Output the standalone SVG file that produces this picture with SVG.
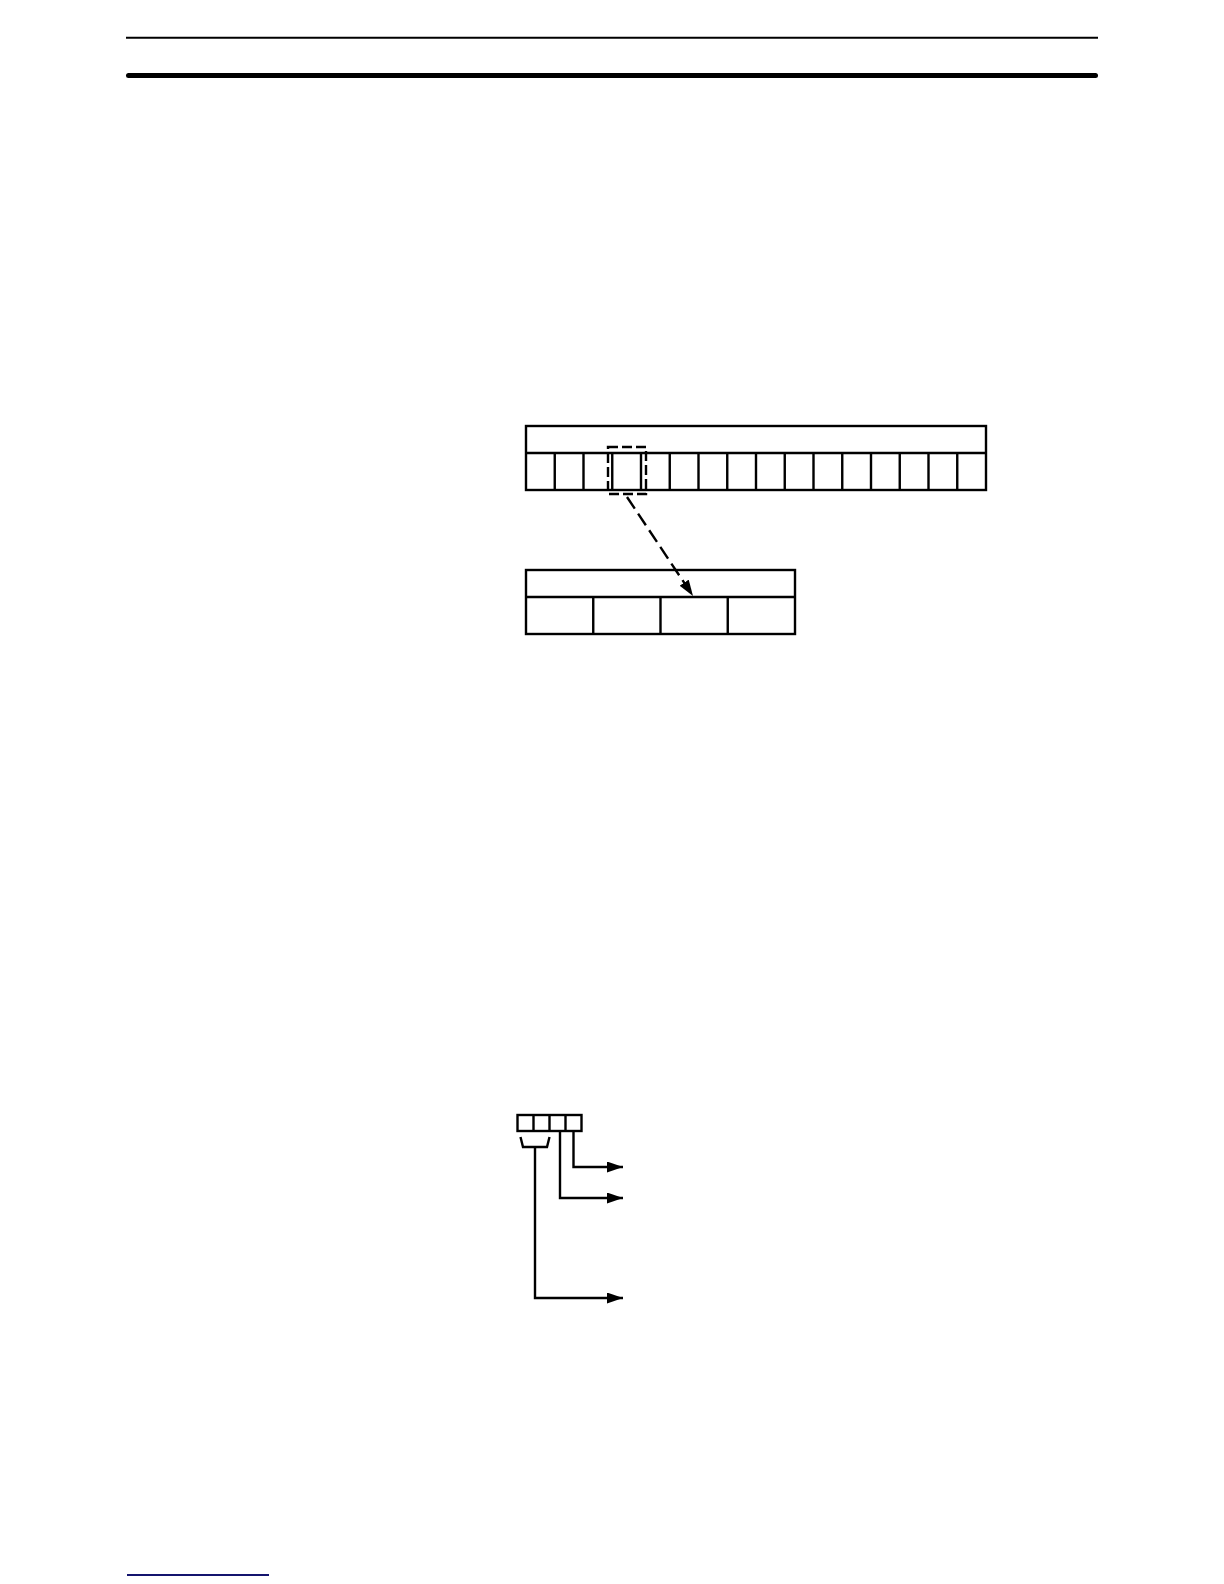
<svg xmlns="http://www.w3.org/2000/svg" width="1224" height="1584" viewBox="0 0 1224 1584">
<style>
.ln{stroke:#000;stroke-width:2.4;fill:none}
.box{stroke:#000;stroke-width:2.4;fill:#fff}
.dash{stroke:#000;stroke-width:2.4;fill:none;stroke-dasharray:10 4}
.dline{stroke:#000;stroke-width:2.4;fill:none;stroke-dasharray:14 6}
</style>
<defs>
<marker id="ah" viewBox="0 0 16 11" refX="16" refY="5.5" markerWidth="16" markerHeight="11" markerUnits="userSpaceOnUse" orient="auto">
<path d="M0,0 L16,5.5 L0,11 Z" fill="#000"/>
</marker>
</defs>
<rect width="1224" height="1584" fill="#fff"/>
<g id="header">
<line x1="126" y1="37.7" x2="1098" y2="37.7" stroke="#000" stroke-width="2"/>
<line x1="128.5" y1="75.5" x2="1095.5" y2="75.5" stroke="#000" stroke-width="5" stroke-linecap="round"/>
</g>
<g id="word-register">
<rect class="box" x="526" y="426" width="460" height="64"/>
<line class="ln" x1="526" y1="453" x2="986" y2="453"/>
<path class="ln" d="M554.75,453V490M583.5,453V490M612.25,453V490M641,453V490M669.75,453V490M698.5,453V490M727.25,453V490M756,453V490M784.75,453V490M813.5,453V490M842.25,453V490M871,453V490M899.75,453V490M928.5,453V490M957.25,453V490"/>
</g>
<g id="selected-bit">
<rect class="dash" x="608" y="447" width="38" height="47"/>
</g>
<g id="digit-register">
<rect class="box" x="526" y="570" width="269" height="64"/>
<line class="ln" x1="526" y1="597" x2="795" y2="597"/>
<path class="ln" d="M593.25,597V634M660.5,597V634M727.75,597V634"/>
</g>
<g id="code-box">
<rect class="box" x="517.5" y="1115" width="64" height="16"/>
<path class="ln" d="M533.5,1115V1131M549.5,1115V1131M565.5,1115V1131"/>
<path class="ln" d="M520.5,1137 L523,1147 H547 L549.5,1137"/>
</g>
<g id="connectors">
<line class="dline" x1="627" y1="497" x2="693" y2="596" marker-end="url(#ah)"/>
<path class="ln" d="M573.5,1131 V1167 H623" marker-end="url(#ah)"/>
<path class="ln" d="M560,1131 V1198 H623" marker-end="url(#ah)"/>
<path class="ln" d="M535,1147 V1298 H623" marker-end="url(#ah)"/>
</g>
<g id="footer">
<line x1="127" y1="1575" x2="269" y2="1575" stroke="#14146e" stroke-width="1.8"/>
</g>
</svg>
